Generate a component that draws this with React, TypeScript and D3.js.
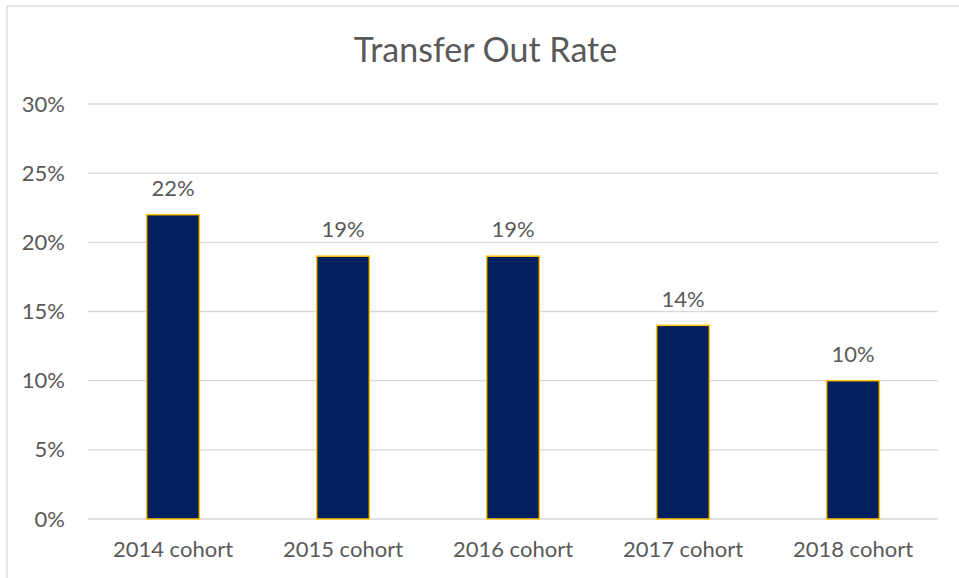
import React from "react";
import * as d3 from "d3";

const categories = ["2014 cohort", "2015 cohort", "2016 cohort", "2017 cohort", "2018 cohort"];
const values = [22, 19, 19, 14, 10];
const yTicks = [0, 5, 10, 15, 20, 25, 30];
const title = "Transfer Out Rate";

const W = 959;
const H = 578;
const FONT = "Lato, 'Open Sans', sans-serif";
const TEXT = "#595959";
const GRID = "#d9d9d9";

export default function App() {
  const x = d3
    .scaleBand<string>()
    .domain(categories)
    .range([88, 938])
    .paddingInner(0.69)
    .paddingOuter(0.345);
  const y = d3.scaleLinear().domain([0, 30]).range([519, 104]);

  return (
    <svg
      width={W}
      height={H}
      style={{ position: "absolute", left: 0, top: 0, background: "#fff" }}
      fontFamily={FONT}
    >
      <rect x={0} y={0} width={W} height={H} fill="#fff" />
      <rect x={7} y={6} width={957} height={600} fill="none" stroke={GRID} strokeWidth={1.3} />
      <text x={485.5} y={62} textAnchor="middle" fontSize={34} fill={TEXT}>
        {title}
      </text>
      {yTicks.map((t) => (
        <g key={t}>
          <line x1={88} x2={938} y1={y(t)} y2={y(t)} stroke={GRID} strokeWidth={1.3} />
          <text x={65} y={y(t) + 7.5} textAnchor="end" fontSize={22} fill={TEXT}>
            {d3.format(".0%")(t / 100)}
          </text>
        </g>
      ))}
      {categories.map((c, i) => (
        <g key={c}>
          <rect
            x={x(c)!}
            y={y(values[i])}
            width={x.bandwidth()}
            height={y(0) - y(values[i])}
            fill="#002060"
            stroke="#FFC000"
            strokeWidth={1.5}
          />
          <text
            x={x(c)! + x.bandwidth() / 2}
            y={y(values[i]) - 18.7}
            textAnchor="middle"
            fontSize={22}
            fill={TEXT}
          >
            {d3.format(".0%")(values[i] / 100)}
          </text>
          <text
            x={x(c)! + x.bandwidth() / 2}
            y={557}
            textAnchor="middle"
            fontSize={22}
            fill={TEXT}
          >
            {c}
          </text>
        </g>
      ))}
    </svg>
  );
}
